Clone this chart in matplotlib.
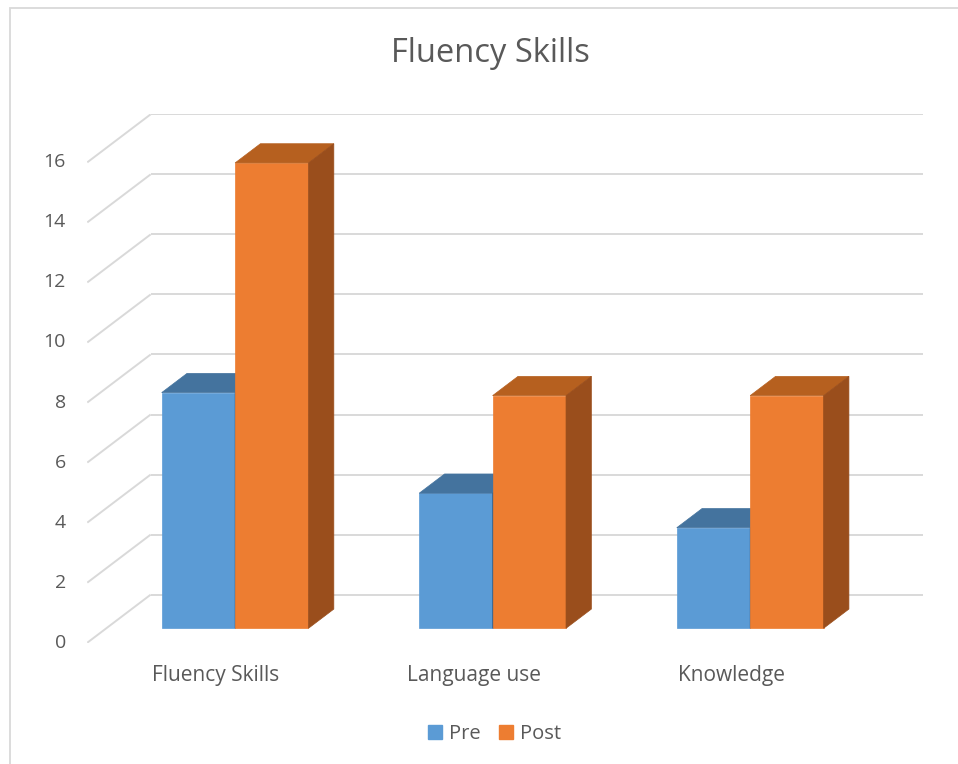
import matplotlib.pyplot as plt
from matplotlib.patches import Polygon, Patch, Rectangle

# data
categories = ["Fluency Skills", "Language use", "Knowledge"]
series = ["Pre", "Post"]
pre_values = [7.85, 4.5, 3.35]
post_values = [15.5, 7.75, 7.75]
y_ticks = [0, 2, 4, 6, 8, 10, 12, 14, 16]

# colours (front, top, side)
PRE_COLORS = ("#5B9BD5", "#44739E", "#3A6187")
POST_COLORS = ("#ED7D31", "#B6601F", "#9A4E1C")
GRID = "#D9D9D9"
TEXT = "#595959"

# fake 3d: depth vector in data units, bar width
DX, DY = 0.246, 1.6
W = 0.285
Z0, ZD = 0.3, 0.4  # bar front depth, bar depth

plt.rcParams['font.family'] = ['Open Sans', 'DejaVu Sans']

fig = plt.figure(figsize=(9.58, 7.64), dpi=100)
ax = fig.add_axes([87.3 / 958, (764 - 642.7) / 764, 836 / 958, 528.4 / 764])
ax.set_xlim(0, 3 + DX)
ax.set_ylim(0, 16 + DY)
ax.axis('off')

# gridlines: diagonal on the side wall + horizontal on back wall
for v in y_ticks:
    ax.plot([0, DX], [v, v + DY], color=GRID, lw=1.4, zorder=1, solid_capstyle='butt')
    ax.plot([DX, 3 + DX], [v + DY, v + DY], color=GRID, lw=1.4, zorder=1, solid_capstyle='butt')
    ax.text(-0.083, v, str(v), ha='right', va='center', fontsize=14, color=TEXT, clip_on=False)


def draw_bar(x0, h, colors, z):
    b = Z0 * DY
    ax.bar(x0, h, W, bottom=b, align='edge', color=colors[0],
           edgecolor=colors[0], lw=0.5, zorder=z)
    dx, dy = ZD * DX, ZD * DY
    top = [(x0, b + h), (x0 + W, b + h), (x0 + W + dx, b + h + dy), (x0 + dx, b + h + dy)]
    side = [(x0 + W, b), (x0 + W + dx, b + dy), (x0 + W + dx, b + h + dy), (x0 + W, b + h)]
    ax.add_patch(Polygon(top, closed=True, fc=colors[1], ec=colors[1], lw=0.5, zorder=z))
    ax.add_patch(Polygon(side, closed=True, fc=colors[2], ec=colors[2], lw=0.5, zorder=z))


for i, cat in enumerate(categories):
    c = i + 0.5
    draw_bar(c - W + Z0 * DX, pre_values[i], PRE_COLORS, 2 + 2 * i)
    draw_bar(c + Z0 * DX, post_values[i], POST_COLORS, 3 + 2 * i)
    ax.text(c, -1.1, cat, ha='center', va='center', fontsize=15, color=TEXT, clip_on=False)

fig.text(0.512, 1 - 53 / 764, "Fluency Skills", ha='center', va='center',
         fontsize=23.5, color=TEXT)

handles = [Patch(color=PRE_COLORS[0], label=series[0]),
           Patch(color=POST_COLORS[0], label=series[1])]
fig.legend(handles=handles, loc='center', bbox_to_anchor=(0.516, 1 - 734 / 764),
           ncol=2, frameon=False, fontsize=14.5, handlelength=0.7, handleheight=0.7,
           handletextpad=0.35, columnspacing=0.9, labelcolor=TEXT)

# chart border (only top/left inside the image)
fig.add_artist(Rectangle((10 / 958, -0.1), 1.2, 1.1 - 8 / 764, transform=fig.transFigure,
                         fill=False, ec=GRID, lw=1.3))

fig.savefig("out.png", dpi=100)
